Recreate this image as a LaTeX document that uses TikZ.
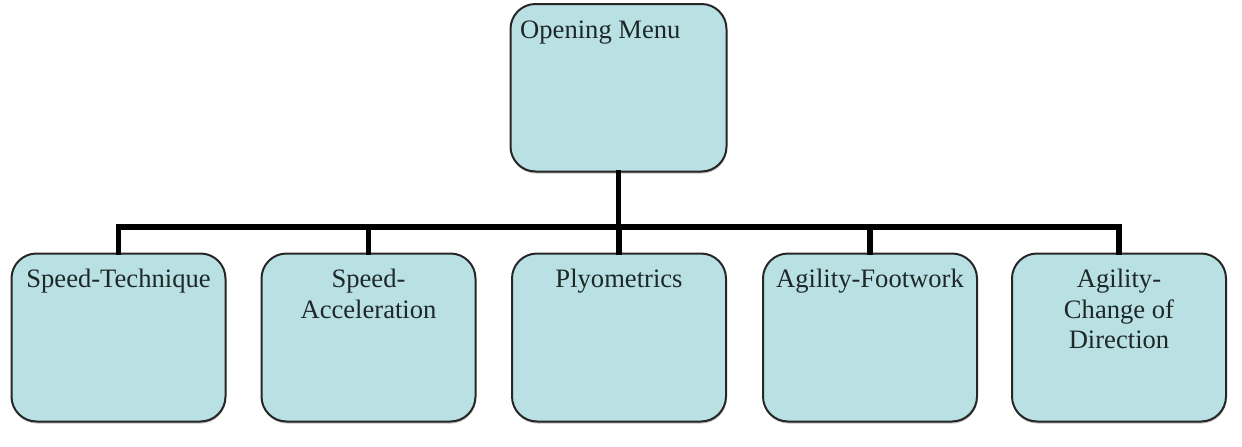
\documentclass[tikz,border=0pt]{standalone}
\usepackage{fontspec}
\setmainfont{Liberation Serif}
\usetikzlibrary{shadows}
\definecolor{boxfill}{HTML}{B9E0E3}
\definecolor{boxline}{HTML}{262626}
\definecolor{ink}{HTML}{1E2828}
\tikzset{
  menubox/.style={draw=boxline, line width=2pt, fill=boxfill, rounded corners=25pt,
    minimum width=214pt, minimum height=168pt, inner sep=0pt,
    drop shadow={shadow xshift=0.5pt, shadow yshift=-2pt, opacity=0.25, fill=black}},
  label/.style={text=ink, inner sep=0pt, align=center,
    font=\fontsize{26.6}{30.5}\selectfont},
  conn/.style={draw=black, line width=5.5pt, line join=miter, line cap=rect}
}
\begin{document}
\begin{tikzpicture}[x=1pt,y=1pt]
  \useasboundingbox (0,0) rectangle (1242,-447);
  % root of the menu tree
  \node[menubox, minimum width=216pt, minimum height=167.5pt] (root) at (618.5,-87.75) {};
  % second level entries
  \node[menubox] (b1) at (118.5,-337.5) {};
  \node[menubox] (b2) at (368.5,-337.5) {};
  \node[menubox] (b3) at (619,-337.5) {};
  \node[menubox] (b4) at (870,-337.5) {};
  \node[menubox] (b5) at (1119,-337.5) {};
  % connectors along a common bus
  \coordinate (bus) at (0,-227);
  \foreach \k in {b1,b2,b3,b4,b5}
    \draw[conn] (root.south) -- (root.south |- bus) -| (\k.north);
  % titles (the base anchor sits on the last line)
  \node[label, anchor=base west] (troot) at ([xshift=10.5pt,yshift=-35pt]root.north west) {Opening Menu};
  \node[label, anchor=base] (t1) at ([yshift=-35pt]b1.north) {Speed-Technique};
  \node[label, anchor=base] (t2) at ([yshift=-65.5pt]b2.north) {Speed-\\Acceleration};
  \node[label, anchor=base] (t3) at ([yshift=-35pt]b3.north) {Plyometrics};
  \node[label, anchor=base] (t4) at ([yshift=-35pt]b4.north) {Agility-Footwork};
  \node[label, anchor=base] (t5) at ([yshift=-96pt]b5.north) {Agility-\\Change of\\Direction};
\end{tikzpicture}
\end{document}
